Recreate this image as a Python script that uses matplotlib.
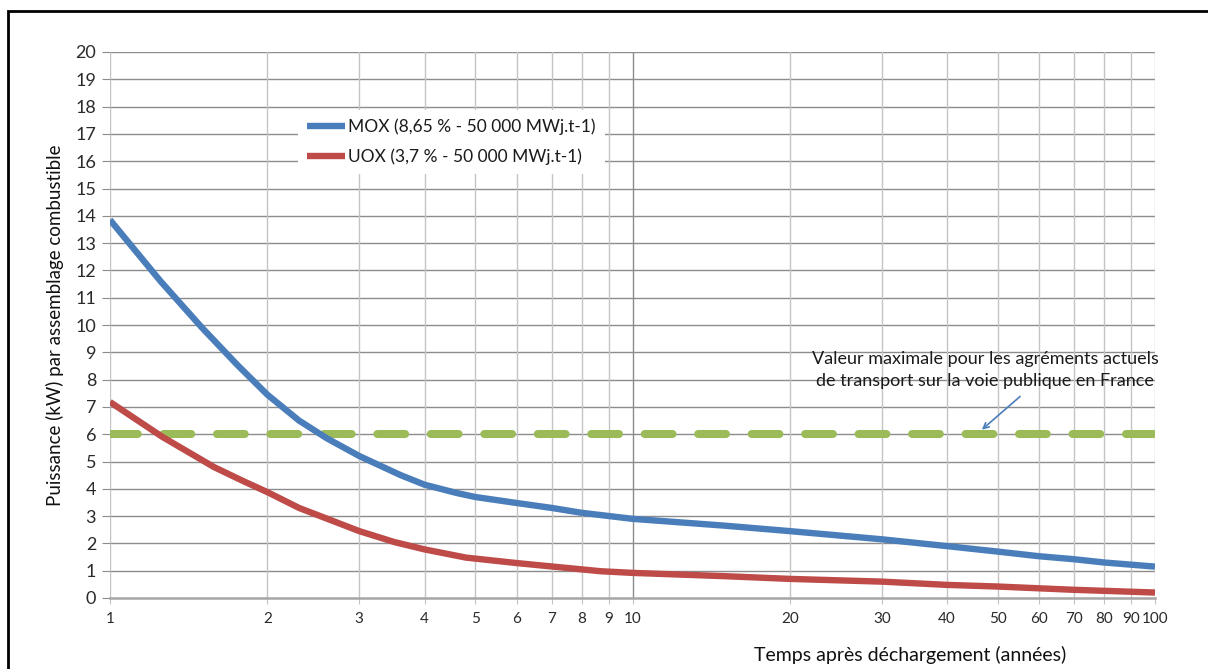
import numpy as np
import matplotlib.pyplot as plt
from matplotlib.patches import Rectangle

plt.rcParams['font.family'] = ['Lato', 'DejaVu Sans']
plt.rcParams['lines.scale_dashes'] = False

# données
mox_t = [1, 1.25, 1.5, 1.75, 2, 2.3, 2.6, 3, 3.6, 4, 4.6, 5, 6, 7, 8, 10,
         15, 20, 30, 40, 50, 60, 70, 80, 100]
mox_p = [13.85, 11.6, 9.9, 8.55, 7.45, 6.5, 5.85, 5.2, 4.5, 4.15, 3.85, 3.7, 3.48, 3.3,
         3.12, 2.9, 2.65, 2.45, 2.15, 1.9, 1.7, 1.53, 1.42, 1.3, 1.15]
uox_t = [1, 1.26, 1.58, 1.8, 2, 2.3, 3, 3.5, 4, 4.8, 6, 7.5, 8.7, 10, 15, 20, 30, 40,
         50, 70, 100]
uox_p = [7.18, 5.9, 4.8, 4.28, 3.88, 3.3, 2.45, 2.05, 1.78, 1.48, 1.28, 1.1, 0.98, 0.92,
         0.8, 0.7, 0.6, 0.48, 0.42, 0.3, 0.2]
seuil = 6

xticks = [1, 2, 3, 4, 5, 6, 7, 8, 9, 10, 20, 30, 40, 50, 60, 70, 80, 90, 100]
yticks = list(range(0, 21))

fig = plt.figure(figsize=(12.08, 6.69), dpi=100)
ax = fig.add_axes([110/1208, 1-598/669, 1045/1208, 546/669])

# cadre noir
fig.patches.append(Rectangle((8/1208, -0.1), 1.2, 1.1 - 11/669, transform=fig.transFigure,
                             fill=False, edgecolor='black', lw=2, zorder=0))

ax.set_xscale('log')
ax.set_xlim(1, 100)
ax.set_ylim(0, 20)

for y in yticks[1:]:
    ax.axhline(y, color='#8c8c8c', lw=1, zorder=0)
for x in xticks:
    ax.axvline(x, color='#8c8c8c' if x == 10 else '#c4c4c4', lw=1, zorder=0)

ax.plot(mox_t, mox_p, color='#4a7ebb', lw=4.6, solid_capstyle='butt',
        solid_joinstyle='round', label='MOX (8,65 % - 50 000 MWj.t-1)', zorder=3)
ax.plot(uox_t, uox_p, color='#be4b48', lw=4.6, solid_capstyle='butt',
        solid_joinstyle='round', label='UOX (3,7 % - 50 000 MWj.t-1)', zorder=3)
ax.plot([1, 100], [seuil, seuil], color='#9bbb59', lw=5.8, dashes=(20, 18.5),
        dash_capstyle='round', zorder=2)

ax.text(47.3, 8.35, 'Valeur maximale pour les agréments actuels\nde transport sur la voie publique en France',
        ha='center', va='center', fontsize=13, color='#1a1a1a', linespacing=1.45)
ax.annotate('', xy=(46.2, 6.1), xytext=(55.7, 7.45),
            arrowprops=dict(arrowstyle='->', color='#4a7ebb', lw=1.2))

ax.set_xticks(xticks)
ax.set_xticklabels([str(x) for x in xticks])
ax.minorticks_off()
ax.set_yticks(yticks)
ax.tick_params(axis='y', length=6, color='#8c8c8c', labelsize=13, labelcolor='#2a2a2a', pad=4)
ax.tick_params(axis='x', length=4, color='#c4c4c4', labelsize=11, labelcolor='#2a2a2a', pad=6)

for s in ['top', 'right', 'left']:
    ax.spines[s].set_visible(False)
ax.spines['bottom'].set_color('#a6a6a6')
ax.spines['bottom'].set_linewidth(1.8)

ax.set_ylabel('Puissance (kW) par assemblage combustible', fontsize=13.5, color='#111111', labelpad=8)
fig.text(910/1208, 1-655/669, 'Temps après déchargement (années)', ha='center', va='center',
         fontsize=14, color='#111111')

leg = ax.legend(loc='upper left', bbox_to_anchor=((298-110)/1045, (598-110)/546),
                fontsize=12.5, handlelength=2.2, handletextpad=0.2, labelspacing=0.75,
                frameon=True, fancybox=False, framealpha=1, edgecolor='none',
                borderpad=0.5, borderaxespad=0)
for t in leg.get_texts():
    t.set_color('#1a1a1a')

fig.savefig('out.png', dpi=100)
